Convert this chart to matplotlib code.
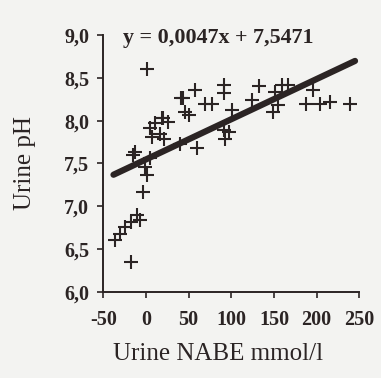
import numpy as np
import matplotlib.pyplot as plt

# urine NABE (mmol/l) and urine pH per sample
nabe = [1, 41, 46, 19, 5, 11, 20, 26, 7, 17, 21,
        58, 44, 69, 77, 50, 91, 91, 101, 97, 124, 132,
        159, 167, 151, 149, 155, 196, 187, 204, 216, 239,
        40, 60, 91, 93,
        -15, -1, 1, -3, -11, -7, -17, -25, -30, -36, -17, -13, 5]
ph = [8.61, 8.26, 8.10, 8.03, 7.91, 7.97, 8.03, 7.99, 7.81, 7.85, 7.79,
      8.36, 8.26, 8.20, 8.20, 8.07, 8.42, 8.32, 8.12, 7.87, 8.24, 8.40,
      8.42, 8.42, 8.34, 8.10, 8.18, 8.36, 8.20, 8.20, 8.22, 8.20,
      7.73, 7.68, 7.89, 7.79,
      7.60, 7.46, 7.36, 7.17, 6.90, 6.84, 6.82, 6.76, 6.68, 6.61, 6.35, 7.64, 7.56]

# fitted line y = 0.0047x + 7.5471
slope = 0.0047
intercept = 7.5471
fit_x = [-38, 245]

xticks = [-50, 0, 50, 100, 150, 200, 250]
yticks = [6.0, 6.5, 7.0, 7.5, 8.0, 8.5, 9.0]
ytick_labels = ["6,0", "6,5", "7,0", "7,5", "8,0", "8,5", "9,0"]

plt.rcParams['font.family'] = ['Liberation Serif', 'DejaVu Serif']

fig = plt.figure(figsize=(3.81, 3.78), dpi=100, facecolor='#f3f3f1')
ax = fig.add_axes([0.271, 0.228, 0.672, 0.679])
ax.set_facecolor('#f3f3f1')

ink = '#2b2424'
ax.plot(nabe, ph, linestyle='none', marker='+', markersize=10,
        markeredgewidth=1.5, color=ink)
fx = np.array(fit_x)
ax.plot(fx, slope * fx + intercept, color=ink, linewidth=4.5,
        solid_capstyle='round')

ax.set_xlim(-50, 250)
ax.set_ylim(6.0, 9.0)
ax.set_xticks(xticks)
ax.set_xticklabels([str(t) for t in xticks], fontweight='bold', fontsize=14.5)
ax.set_yticks(yticks)
ax.set_yticklabels(ytick_labels, fontweight='bold', fontsize=14.5)
ax.tick_params(axis='x', colors=ink, length=4, width=1.2, pad=9)
ax.tick_params(axis='y', colors=ink, length=4, width=1.2, pad=6)

for s in ['top', 'right']:
    ax.spines[s].set_visible(False)
for s in ['left', 'bottom']:
    ax.spines[s].set_color(ink)
    ax.spines[s].set_linewidth(1.4)

ax.text(0.077, 0.988, 'y = 0,0047x + 7,5471', transform=ax.transAxes,
        fontsize=15.8, fontweight='bold', color=ink, va='center')

ax.set_xlabel('Urine NABE mmol/l', fontsize=18, color=ink)
ax.set_ylabel('Urine pH', fontsize=18, color=ink)
ax.xaxis.set_label_coords(0.45, -0.2)
ax.yaxis.set_label_coords(-0.262, 0.5)

fig.savefig('out.png', dpi=100, facecolor=fig.get_facecolor())
